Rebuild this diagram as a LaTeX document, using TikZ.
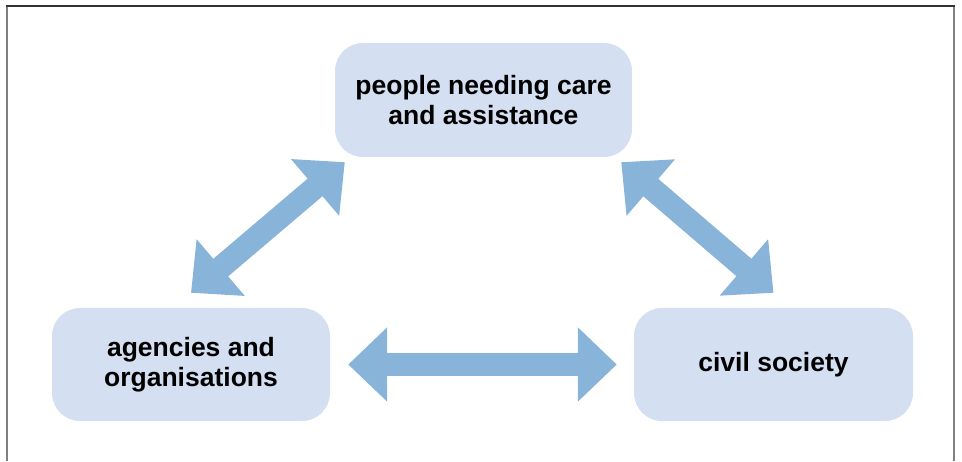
\documentclass[tikz,border=0pt]{standalone}
\usepackage{fontspec}
\setsansfont{Liberation Sans}
\usepackage{xcolor}
\usetikzlibrary{
    arrows.meta,
    calc,
    positioning
}
\definecolor{boxfill}{HTML}{D4E0F1}
\definecolor{arrowblue}{HTML}{89B4DA}

\begin{document}
\begin{tikzpicture}[x=1pt, y=1pt,
    box/.style={fill=boxfill, rounded corners=28pt, inner sep=0pt, align=center,
        font=\sffamily\bfseries\fontsize{26.5}{30}\selectfont},
    twoway/.style={draw=arrowblue, line width=23pt,
        {Triangle[width=72pt, length=39pt]}-{Triangle[width=72pt, length=39pt]}}]
    \useasboundingbox (0, 0) rectangle (962, 461);
    % frame, open at the bottom
    \draw[line width=2pt, gray] (7, 0) -- (7, 455);
    \draw[line width=2pt, gray] (954, 0) -- (954, 455);
    \draw[line width=2pt, black!80] (6, 455) -- (955, 455);

    \node[box, minimum width=297pt, minimum height=114pt] (people) at (483.5, 361)
        {people needing care\\and assistance};
    \node[box, minimum width=278pt, minimum height=113pt] (agencies) at (191, 96.5)
        {agencies and\\organisations};
    \node[box, minimum width=279pt, minimum height=113pt] (civil) at (773.5, 96.5)
        {civil society};

    \draw[twoway] ([yshift=15pt]agencies.north) -- ([shift={(10pt,-5pt)}]people.south west);
    \draw[twoway] ([shift={(-11pt,-5pt)}]people.south east) -- ([yshift=15pt]civil.north);
    \draw[twoway, shorten <=18pt, shorten >=17pt] (agencies.east) -- (civil.west);
\end{tikzpicture}
\end{document}
